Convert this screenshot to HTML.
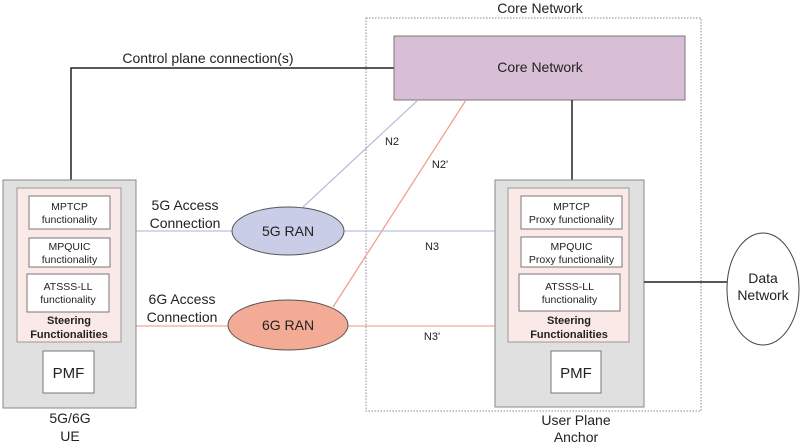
<!DOCTYPE html>
<html><head><meta charset="utf-8"><style>
html,body{margin:0;padding:0;background:#fff}
svg{display:block;font-family:"Liberation Sans",Arial,sans-serif}
</style></head><body>
<svg width="800" height="445" viewBox="0 0 800 445" xmlns="http://www.w3.org/2000/svg">
<!-- dotted core boundary -->
<rect x="366" y="18" width="335" height="393" fill="none" stroke="#888" stroke-width="1" stroke-dasharray="1.5,1.5"/>
<text x="540" y="13" font-size="14" text-anchor="middle" fill="#222">Core Network</text>
<!-- control plane -->
<polyline points="71,180 71,68 394,68" fill="none" stroke="#222" stroke-width="1.5"/>
<text x="208" y="63" font-size="14" text-anchor="middle" fill="#222">Control plane connection(s)</text>
<!-- core box -->
<rect x="394" y="36" width="291" height="64" fill="#d9bfd6" stroke="#777" stroke-width="1"/>
<text x="540" y="72" font-size="14" text-anchor="middle" fill="#222">Core Network</text>
<line x1="572" y1="100" x2="572" y2="180" stroke="#222" stroke-width="1.5"/>
<!-- N2 / N2' -->
<line x1="303" y1="207" x2="418" y2="100" stroke="#b8bce0" stroke-width="1.2"/>
<line x1="333" y1="307" x2="466" y2="100" stroke="#f09a88" stroke-width="1.2"/>
<text x="392" y="145" font-size="11" text-anchor="middle" fill="#222">N2</text>
<text x="440" y="168" font-size="11" text-anchor="middle" fill="#222">N2'</text>
<!-- access lines -->
<line x1="136" y1="231" x2="232" y2="231" stroke="#b8c4dc" stroke-width="1.2"/>
<line x1="344" y1="231" x2="495" y2="231" stroke="#b8c4dc" stroke-width="1.2"/>
<line x1="136" y1="326" x2="228" y2="326" stroke="#f0a898" stroke-width="1.2"/>
<line x1="348" y1="326" x2="495" y2="326" stroke="#f0a898" stroke-width="1.2"/>
<text x="432" y="250" font-size="11" text-anchor="middle" fill="#222">N3</text>
<text x="432" y="340" font-size="11" text-anchor="middle" fill="#222">N3'</text>
<text x="185" y="210" font-size="14" text-anchor="middle" fill="#222">5G Access</text>
<text x="185" y="228" font-size="14" text-anchor="middle" fill="#222">Connection</text>
<text x="182" y="304" font-size="14" text-anchor="middle" fill="#222">6G Access</text>
<text x="182" y="322" font-size="14" text-anchor="middle" fill="#222">Connection</text>
<!-- RAN ellipses -->
<ellipse cx="288" cy="231" rx="56" ry="24" fill="#c9cde8" stroke="#555" stroke-width="1"/>
<text x="288" y="236" font-size="14" text-anchor="middle" fill="#222">5G RAN</text>
<ellipse cx="288" cy="325" rx="60" ry="25" fill="#f3ab96" stroke="#555" stroke-width="1"/>
<text x="288" y="330" font-size="14" text-anchor="middle" fill="#222">6G RAN</text>
<!-- UE -->
<rect x="3" y="180" width="133" height="228" fill="#e0e0e0" stroke="#888" stroke-width="1"/>
<rect x="17" y="188" width="104" height="154" fill="#fbe9e7" stroke="#999" stroke-width="1"/>
<rect x="29" y="196" width="81" height="33" fill="#fff" stroke="#777"/>
<text x="69.5" y="210" font-size="10.5" text-anchor="middle" fill="#222">MPTCP</text>
<text x="69.5" y="223" font-size="10.5" text-anchor="middle" fill="#222">functionality</text>
<rect x="29" y="238" width="81" height="29" fill="#fff" stroke="#777"/>
<text x="69.5" y="250" font-size="10.5" text-anchor="middle" fill="#222">MPQUIC</text>
<text x="69.5" y="263" font-size="10.5" text-anchor="middle" fill="#222">functionality</text>
<rect x="27" y="274" width="82" height="38" fill="#fff" stroke="#777"/>
<text x="68" y="290" font-size="10.5" text-anchor="middle" fill="#222">ATSSS-LL</text>
<text x="68" y="303" font-size="10.5" text-anchor="middle" fill="#222">functionality</text>
<text x="69" y="324" font-size="11" font-weight="bold" text-anchor="middle" fill="#222">Steering</text>
<text x="69" y="338" font-size="11" font-weight="bold" text-anchor="middle" fill="#222">Functionalities</text>
<rect x="43" y="351" width="51" height="42" fill="#fff" stroke="#777"/>
<text x="68.5" y="378" font-size="15" text-anchor="middle" fill="#222">PMF</text>
<text x="70" y="423" font-size="14" text-anchor="middle" fill="#222">5G/6G</text>
<text x="70" y="441" font-size="14" text-anchor="middle" fill="#222">UE</text>
<!-- UPA -->
<rect x="495" y="180" width="149" height="227" fill="#e0e0e0" stroke="#888" stroke-width="1"/>
<rect x="508" y="188" width="121" height="154" fill="#fbe9e7" stroke="#999" stroke-width="1"/>
<rect x="521" y="196" width="101" height="33" fill="#fff" stroke="#777"/>
<text x="571.5" y="210" font-size="10.5" text-anchor="middle" fill="#222">MPTCP</text>
<text x="571.5" y="223" font-size="10.5" text-anchor="middle" fill="#222">Proxy functionality</text>
<rect x="521" y="237" width="101" height="30" fill="#fff" stroke="#777"/>
<text x="571.5" y="250" font-size="10.5" text-anchor="middle" fill="#222">MPQUIC</text>
<text x="571.5" y="263" font-size="10.5" text-anchor="middle" fill="#222">Proxy functionality</text>
<rect x="519" y="274" width="101" height="37" fill="#fff" stroke="#777"/>
<text x="569.5" y="290" font-size="10.5" text-anchor="middle" fill="#222">ATSSS-LL</text>
<text x="569.5" y="303" font-size="10.5" text-anchor="middle" fill="#222">functionality</text>
<text x="569" y="324" font-size="11" font-weight="bold" text-anchor="middle" fill="#222">Steering</text>
<text x="569" y="338" font-size="11" font-weight="bold" text-anchor="middle" fill="#222">Functionalities</text>
<rect x="551" y="351" width="50" height="42" fill="#fff" stroke="#777"/>
<text x="576" y="378" font-size="15" text-anchor="middle" fill="#222">PMF</text>
<text x="576" y="425" font-size="14" text-anchor="middle" fill="#222">User Plane</text>
<text x="576" y="442" font-size="14" text-anchor="middle" fill="#222">Anchor</text>
<!-- Data network -->
<line x1="644" y1="282" x2="727" y2="282" stroke="#222" stroke-width="1.5"/>
<ellipse cx="763" cy="289" rx="36" ry="56" fill="#fff" stroke="#444" stroke-width="1"/>
<text x="763" y="283" font-size="14" text-anchor="middle" fill="#222">Data</text>
<text x="763" y="300" font-size="14" text-anchor="middle" fill="#222">Network</text>
</svg>
</body></html>
